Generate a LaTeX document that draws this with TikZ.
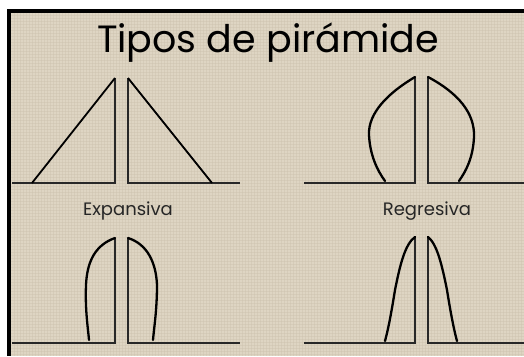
\documentclass[tikz,border=0pt]{standalone}
\usepackage{fontspec}
\setmainfont{Poppins}
\definecolor{burlap}{RGB}{222,213,195}
\definecolor{burlapdark}{RGB}{205,195,175}
\definecolor{inkgray}{RGB}{40,40,40}
\tikzset{
  axisline/.style={draw=inkgray, line width=1.3pt},
  profile/.style={draw=black, line width=2.3pt, line cap=round},
  slant/.style={draw=black, line width=1.8pt},
  label/.style={font=\fontsize{18}{20}\selectfont, text=black!85, inner sep=0pt, anchor=base},
}
\begin{document}
\begin{tikzpicture}[x=1pt,y=-1pt]
\useasboundingbox (0,0) rectangle (524,356);
\fill[white] (0,0) rectangle (524,356);
\fill[black] (7,9) rectangle (524,356);
\fill[burlap] (11,13) rectangle (524,356);
% faint texture
\foreach \i in {0,...,170}{
  \draw[burlapdark, line width=0.4pt, opacity=0.45] ({14+3*\i},13) -- ({14+3*\i},356);
}
\foreach \j in {0,...,113}{
  \draw[burlapdark, line width=0.4pt, opacity=0.45] (11,{15+3*\j}) -- (524,{15+3*\j});
}
% title
\node[font=\fontsize{38}{40}\selectfont, inner sep=0pt, anchor=base] (title) at (268,52) {Tipos de pirámide};
% ---------- top-left: triangle
\coordinate (tlA) at (12,183);
\coordinate (tlB) at (115,183);
\coordinate (tlC) at (115,78);
\coordinate (tlD) at (128,78);
\coordinate (tlE) at (128,183);
\coordinate (tlF) at (240,183);
\draw[axisline] (tlA) -- (tlB) -- (tlC);
\draw[axisline] (tlD) -- (tlE) -- (tlF);
\draw[slant] (tlC) -- (32,183);
\draw[slant] (tlD) -- (212,183);
\node[label] (expansiva) at (128,215) {Expansiva};
% ---------- top-right: regresiva
\coordinate (trA) at (304,183);
\coordinate (trB) at (415,183);
\coordinate (trC) at (415,77);
\coordinate (trD) at (428,77);
\coordinate (trE) at (428,183);
\coordinate (trF) at (524,183);
\draw[axisline] (trA) -- (trB) -- (trC);
\draw[axisline] (trD) -- (trE) -- (trF);
\draw[profile] (trC) .. controls (388,93) and (368,113) .. (369,135) .. controls (370,155) and (377,170) .. (385,181);
\draw[profile] (trD) .. controls (458,93) and (475,113) .. (474,137) .. controls (473,158) and (466,171) .. (459,181);
\node[label] (regresiva) at (427,215) {Regresiva};
% ---------- bottom-left
\coordinate (blA) at (12,343);
\coordinate (blB) at (115,343);
\coordinate (blC) at (115,238);
\coordinate (blD) at (128,238);
\coordinate (blE) at (128,343);
\coordinate (blF) at (240,343);
\draw[axisline] (blA) -- (blB) -- (blC);
\draw[axisline] (blD) -- (blE) -- (blF);
\draw[profile] (blC) .. controls (95,245) and (87,262) .. (86,285) .. controls (85,310) and (88,328) .. (89,340);
\draw[profile] (blD) .. controls (147,244) and (156,262) .. (157,285) .. controls (157,310) and (154,328) .. (153,340);
% ---------- bottom-right
\coordinate (brA) at (304,343);
\coordinate (brB) at (415,343);
\coordinate (brC) at (415,237);
\coordinate (brD) at (428,237);
\coordinate (brE) at (428,343);
\coordinate (brF) at (524,343);
\draw[axisline] (brA) -- (brB) -- (brC);
\draw[axisline] (brD) -- (brE) -- (brF);
\draw[profile] (brC) .. controls (405,244) and (400,265) .. (395,290) .. controls (391,315) and (388,330) .. (385,341);
\draw[profile] (brD) .. controls (437,244) and (442,265) .. (447,290) .. controls (451,315) and (454,330) .. (457,341);
\end{tikzpicture}
\end{document}
